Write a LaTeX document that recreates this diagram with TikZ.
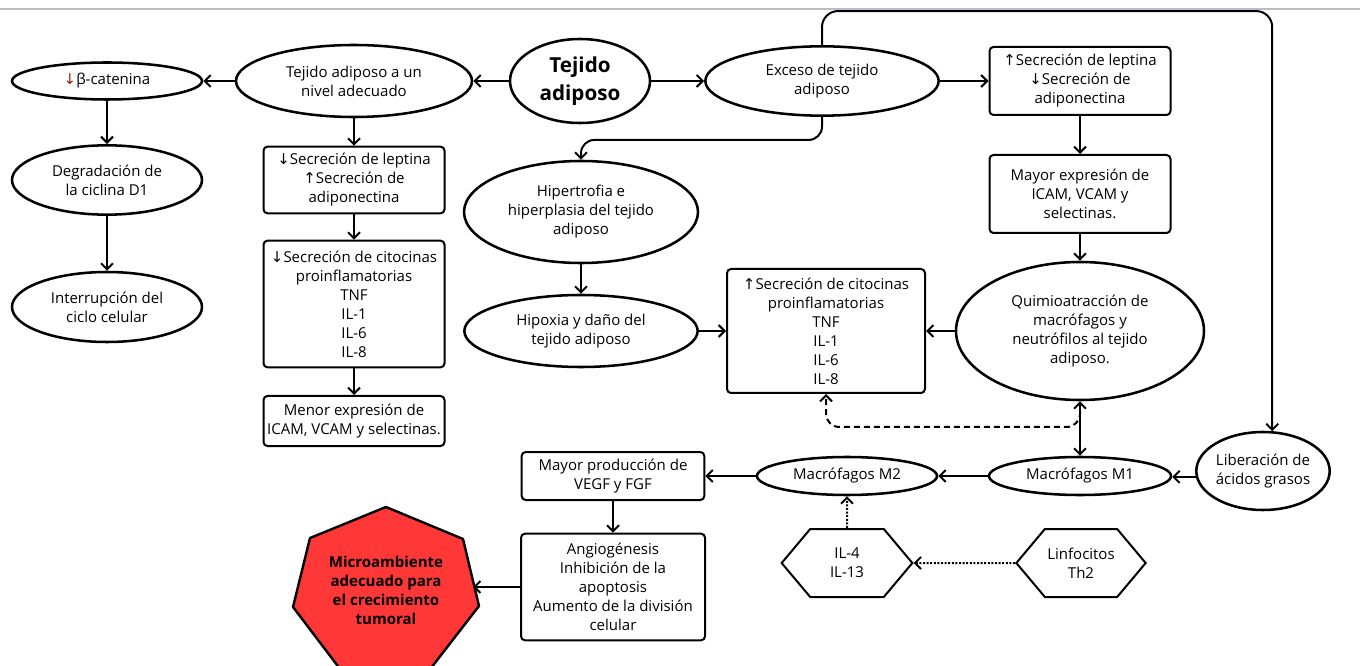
\documentclass[tikz,border=0pt]{standalone}
\usepackage{fontspec}
\setmainfont{Open Sans}
\newfontfamily\symfont{DejaVu Sans}
\usetikzlibrary{arrows.meta,positioning,calc,shapes.geometric,shapes.symbols}
\definecolor{redfill}{RGB}{255,55,55}
\definecolor{arrowred}{RGB}{130,45,25}
\definecolor{rulegray}{RGB}{180,188,205}
\newcommand{\arrdn}{{\symfont\char"2193}}
\newcommand{\arrup}{{\symfont\char"2191}}

\begin{document}
\begin{tikzpicture}[x=0.75pt,y=-0.75pt,
    txt/.style={font=\fontsize{11.25pt}{14.25pt}\selectfont,align=center,inner sep=0pt},
    oval/.style={txt,ellipse,draw,line width=1.9pt},
    box/.style={txt,rectangle,rounded corners=3pt,draw,line width=1.5pt},
    hexa/.style={txt,signal,signal to=east and west,signal pointer angle=100,draw,line width=1.5pt},
    arr/.style={line width=1.5pt,-{Straight Barb[length=4.5pt,width=9pt]}},
    arrtwo/.style={line width=1.5pt,{Straight Barb[length=4.5pt,width=9pt]}-{Straight Barb[length=4.5pt,width=9pt]}},
    dsh/.style={arr,dash pattern=on 4.5pt off 3pt},
    dts/.style={arr,dash pattern=on 1.5pt off 1.2pt}]
  \path[use as bounding box] (0,0) rectangle (1360,666);
  \clip (0,0) rectangle (1360,666);
  \draw[rulegray,line width=0.8pt] (0,9) -- (1360,9);

  % top row
  \node[oval,minimum width=105pt,minimum height=63pt,font=\fontsize{15.5pt}{20.5pt}\selectfont\bfseries] (tejido) at (580,81) {Tejido\\adiposo};
  \node[oval,minimum width=177pt,minimum height=54pt] (nivel) at (354,81) {Tejido adiposo a un\\nivel adecuado};
  \node[oval,minimum width=142.5pt,minimum height=27.75pt] (beta) at (107,81) {\textcolor{arrowred}{\arrdn}β-catenina};
  \node[oval,minimum width=175pt,minimum height=52pt] (exceso) at (822,81) {Exceso de tejido\\adiposo};
  \node[box,minimum width=135.75pt,minimum height=51pt] (lepUp) at (1080,81) {\arrup Secreción de leptina\\\arrdn Secreción de\\adiponectina};

  % left branch
  \node[oval,minimum width=142.5pt,minimum height=52pt] (degr) at (107,180) {Degradación de\\la ciclina D1};
  \node[oval,minimum width=142.5pt,minimum height=52.5pt] (inter) at (107,307) {Interrupción del\\ciclo celular};
  \node[box,minimum width=135.75pt,minimum height=50pt] (lepDn) at (354,180) {\arrdn Secreción de leptina\\\arrup Secreción de\\adiponectina};
  \node[box,minimum width=135.75pt,minimum height=95pt] (citoDn) at (354,304) {\arrdn Secreción de citocinas\\proinflamatorias\\TNF\\IL-1\\IL-6\\IL-8};
  \node[box,minimum width=135.75pt,minimum height=37.5pt] (menor) at (354,421) {Menor expresión de\\ICAM, VCAM y selectinas.};

  % right branch
  \node[oval,minimum width=175.5pt,minimum height=76.5pt] (hiper) at (581,212) {Hipertrofia e\\hiperplasia del tejido\\adiposo};
  \node[oval,minimum width=175pt,minimum height=54pt] (hipox) at (581,331) {Hipoxia y daño del\\tejido adiposo};
  \node[box,minimum width=148.5pt,minimum height=93pt] (citoUp) at (826,331) {\arrup Secreción de citocinas\\proinflamatorias\\TNF\\IL-1\\IL-6\\IL-8};
  \node[box,minimum width=135.75pt,minimum height=58.5pt] (icamUp) at (1080,194) {Mayor expresión de\\ICAM, VCAM y\\selectinas.};
  \node[oval,minimum width=186pt,minimum height=103.5pt] (quimio) at (1080,331) {Quimioatracción de\\macrófagos y\\neutrófilos al tejido\\adiposo.};

  % bottom row
  \node[oval,minimum width=97.5pt,minimum height=58.5pt] (lib) at (1263,471) {Liberación de\\ácidos grasos};
  \node[oval,minimum width=136.5pt,minimum height=28.5pt] (mone) at (1080,476) {Macrófagos M1};
  \node[oval,minimum width=135pt,minimum height=28.5pt] (mtwo) at (847,476) {Macrófagos M2};
  \node[box,minimum width=137pt,minimum height=36pt] (vegf) at (613,476) {Mayor producción de\\VEGF y FGF};
  \node[box,minimum width=138pt,minimum height=80pt] (angio) at (613,587) {Angiogénesis\\Inhibición de la\\apoptosis\\Aumento de la división\\celular};
  \node[hexa,minimum width=98pt,minimum height=51pt] (ils) at (847,563) {IL-4\\IL-13};
  \node[hexa,minimum width=97pt,minimum height=51pt] (linf) at (1081,563) {Linfocitos\\Th2};

  % heptagon
  \fill[redfill,draw=black,line width=1.8pt,line join=round] (386,507) -- (463,539) -- (479,606) -- (414,690) -- (356,690) -- (293,607) -- (310,538) -- cycle;
  \node[txt,font=\fontsize{11.25pt}{14.25pt}\selectfont\bfseries] (micro) at (386,590) {Microambiente\\adecuado para\\el crecimiento\\tumoral};
  \coordinate (microtip) at (473,587);

  % connectors
  \draw[arr] (tejido) -- (nivel);
  \draw[arr] (nivel) -- (beta);
  \draw[arr] (tejido) -- (exceso);
  \draw[arr] (exceso) -- (lepUp);
  \draw[arr] (beta) -- (degr);
  \draw[arr] (degr) -- (inter);
  \draw[arr] (nivel) -- (lepDn);
  \draw[arr] (lepDn) -- (citoDn);
  \draw[arr] (citoDn) -- (menor);
  \draw[arr,rounded corners=10pt] (exceso.south) -- ++(0,23) -| (hiper.north);
  \draw[arr,rounded corners=12pt] (exceso.north) -- ++(0,-34) -| (lib.77);
  \draw[arr] (lepUp) -- (icamUp);
  \draw[arr] (icamUp) -- (quimio);
  \draw[arr] (quimio) -- (citoUp);
  \draw[arr] (hiper) -- (hipox);
  \draw[arr] (hipox) -- (citoUp);
  \draw[arrtwo] (quimio) -- (mone);
  \draw[dsh,rounded corners=10pt] ($(quimio.south)+(0,10)$) |- ($(citoUp.south)+(0,33)$) -- (citoUp.south);
  \draw[arr] (lib.185) -- (lib.185 -| mone.east);
  \draw[arr] (mone) -- (mtwo);
  \draw[arr] (mtwo) -- (vegf);
  \draw[arr] (vegf) -- (angio);
  \draw[arr] (angio.west) -- (microtip);
  \draw[dts] (ils) -- (mtwo);
  \draw[dts] (linf) -- (ils);
\end{tikzpicture}
\end{document}
